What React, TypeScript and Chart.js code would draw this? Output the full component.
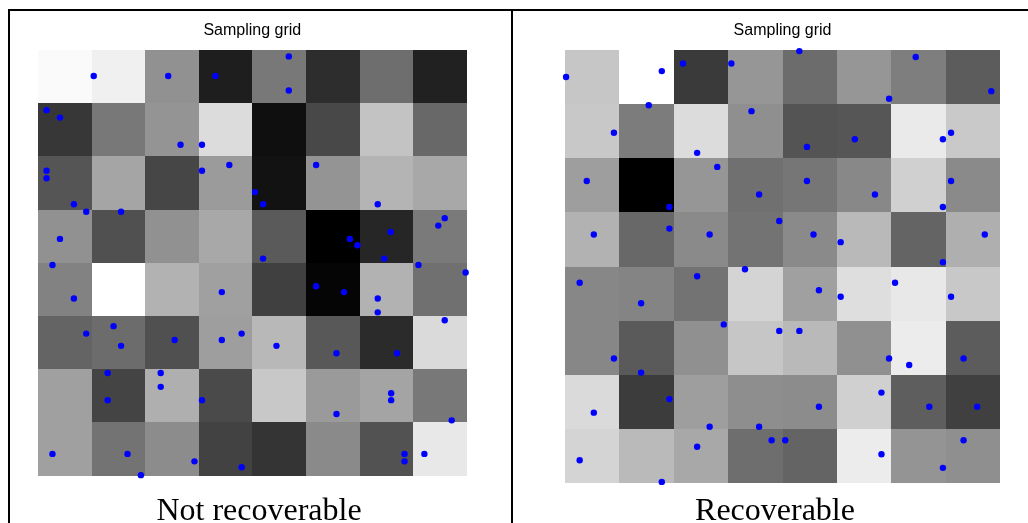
import React, { useEffect, useRef } from "react";
import { Chart, registerables } from "chart.js";
Chart.register(...registerables);

const TITLE = "Sampling grid";
const LEFT_LABEL = "Not recoverable";
const RIGHT_LABEL = "Recoverable";

// gray levels (0-255), row-major from top
const leftGray: number[][] = [
  [250, 240, 145, 30, 120, 45, 110, 33],
  [55, 120, 148, 220, 15, 72, 195, 104],
  [85, 165, 70, 155, 18, 148, 180, 168],
  [145, 80, 145, 168, 90, 0, 38, 122],
  [130, 255, 178, 160, 64, 5, 178, 112],
  [100, 108, 80, 158, 184, 88, 43, 218],
  [160, 68, 175, 74, 200, 154, 164, 120],
  [160, 115, 140, 66, 52, 138, 82, 232],
];

const rightGray: number[][] = [
  [198, 255, 58, 150, 108, 150, 126, 92],
  [200, 124, 220, 143, 84, 86, 234, 201],
  [158, 0, 150, 112, 118, 136, 208, 138],
  [178, 104, 138, 115, 138, 185, 100, 175],
  [135, 132, 115, 212, 160, 222, 232, 200],
  [135, 90, 144, 198, 185, 144, 236, 92],
  [218, 60, 158, 142, 140, 208, 94, 64],
  [212, 186, 168, 110, 100, 236, 148, 143],
];

// sample positions in grid units (x from left, y from top)
const leftX = [
  1.04, 2.43, 3.31, 4.68, 4.68, 0.16, 0.41, 2.66, 3.06, 0.16, 0.16, 3.06, 3.57, 4.05, 4.2, 5.19,
  0.67, 0.9, 1.55, 6.34, 7.59, 7.47, 6.58, 0.41, 5.82, 5.96, 4.2, 6.46, 0.27, 7.1, 7.98, 0.67,
  3.43, 5.19, 5.71, 6.34, 6.34, 7.59, 0.9, 1.41, 1.55, 2.55, 3.43, 3.8, 4.45, 5.57, 6.7, 1.3,
  2.29, 2.29, 1.3, 3.06, 5.57, 6.59, 6.59, 7.72, 0.27, 1.67, 1.92, 2.92, 3.8, 6.84, 6.84, 7.21,
];
const leftY = [
  0.49, 0.49, 0.49, 0.12, 0.76, 1.13, 1.27, 1.78, 1.78, 2.27, 2.41, 2.27, 2.16, 2.67, 2.9, 2.16,
  2.9, 3.04, 3.04, 2.9, 3.16, 3.3, 3.42, 3.55, 3.55, 3.67, 3.92, 3.92, 4.04, 4.04, 4.18, 4.67,
  4.55, 4.44, 4.55, 4.67, 4.93, 5.08, 5.33, 5.19, 5.56, 5.45, 5.45, 5.33, 5.56, 5.7, 5.7, 6.07,
  6.07, 6.33, 6.58, 6.58, 6.84, 6.45, 6.58, 6.96, 7.59, 7.59, 7.99, 7.73, 7.84, 7.59, 7.73, 7.59,
];
const rightX = [
  0.02, 1.78, 2.17, 3.06, 4.31, 6.45, 7.84, 5.96, 1.54, 0.9, 3.43, 2.43, 4.45, 5.33, 7.1, 6.95,
  0.4, 2.8, 3.57, 4.45, 5.7, 7.1, 6.95, 1.92, 1.92, 0.53, 2.66, 3.94, 4.57, 5.07, 7.72, 6.95,
  0.27, 1.4, 2.43, 3.31, 4.67, 5.07, 6.07, 7.1, 0.9, 1.4, 2.92, 3.94, 4.31, 5.96, 6.33, 7.33,
  0.53, 1.92, 2.66, 3.57, 4.67, 5.82, 6.7, 7.58, 0.27, 1.78, 2.43, 3.8, 4.05, 5.82, 6.95, 7.33,
];
const rightY = [
  0.5, 0.39, 0.25, 0.25, 0.02, 0.13, 0.76, 0.9, 1.02, 1.53, 1.13, 1.9, 1.79, 1.65, 1.53, 1.65,
  2.42, 2.16, 2.67, 2.42, 2.67, 2.42, 2.9, 2.9, 3.3, 3.41, 3.41, 3.16, 3.41, 3.55, 3.41, 3.92,
  4.3, 4.68, 4.18, 4.05, 4.44, 4.56, 4.3, 4.56, 5.7, 5.96, 5.07, 5.19, 5.19, 5.7, 5.82, 5.7,
  6.7, 6.45, 6.96, 6.96, 6.59, 6.33, 6.59, 6.59, 7.58, 7.98, 7.33, 7.21, 7.21, 7.47, 7.72, 7.21,
];

const GRID_N = 8;

function makeCellPlugin(grays: number[][]) {
  return {
    id: "grayCells",
    beforeDatasetsDraw(chart: any) {
      const { ctx } = chart;
      const xs = chart.scales.x;
      const ys = chart.scales.y;
      ctx.save();
      for (let r = 0; r < grays.length; r++) {
        for (let c = 0; c < grays[r].length; c++) {
          const x0 = Math.round(xs.getPixelForValue(c));
          const x1 = Math.round(xs.getPixelForValue(c + 1));
          const y0 = Math.round(ys.getPixelForValue(r));
          const y1 = Math.round(ys.getPixelForValue(r + 1));
          const g = grays[r][c];
          ctx.fillStyle = `rgb(${g},${g},${g})`;
          ctx.fillRect(Math.min(x0, x1), Math.min(y0, y1), Math.abs(x1 - x0), Math.abs(y1 - y0));
        }
      }
      ctx.restore();
    },
  };
}

type PanelProps = {
  grays: number[][];
  xs: number[];
  ys: number[];
  left: number;
  width: number;
  padding: { left: number; right: number; bottom: number };
};

function GridPanel({ grays, xs, ys, left, width, padding }: PanelProps) {
  const ref = useRef<HTMLCanvasElement | null>(null);
  useEffect(() => {
    if (!ref.current) return;
    const points = xs.map((x, i) => ({ x, y: ys[i] }));
    const chart = new Chart(ref.current, {
      type: "scatter",
      data: {
        datasets: [
          {
            data: points,
            backgroundColor: "#0000ff",
            borderWidth: 0,
            pointRadius: 3.2,
            clip: false as any,
          },
        ],
      },
      options: {
        animation: false,
        responsive: true,
        maintainAspectRatio: false,
        layout: { padding: { top: 0, left: padding.left, right: padding.right, bottom: padding.bottom } },
        scales: {
          x: { type: "linear", min: 0, max: GRID_N, display: false },
          y: { type: "linear", min: 0, max: GRID_N, reverse: true, display: false },
        },
        plugins: {
          legend: { display: false },
          tooltip: { enabled: false },
          title: {
            display: true,
            text: TITLE,
            color: "#000",
            font: { family: "'Liberation Sans', Arial, sans-serif", size: 16, weight: "normal" as any, lineHeight: 1.2 },
            padding: { top: 10.4, bottom: 9.4 },
          },
        },
      },
      plugins: [makeCellPlugin(grays)],
    });
    return () => chart.destroy();
  }, [grays, xs, ys, padding]);
  return (
    <div style={{ position: "absolute", left, top: 11, width, height: 512 }}>
      <canvas ref={ref} />
    </div>
  );
}

const leftPad = { left: 28, right: 44.3, bottom: 47.3 };
const rightPad = { left: 52, right: 28, bottom: 40 };

export default function App() {
  const labelStyle: React.CSSProperties = {
    position: "absolute",
    top: 493,
    width: 400,
    height: 32,
    lineHeight: "32px",
    fontFamily: "'Liberation Serif', 'Times New Roman', serif",
    fontSize: 32,
    textAlign: "center",
    color: "#000",
    whiteSpace: "nowrap",
  };
  return (
    <div style={{ position: "absolute", left: 0, top: 0, width: 1028, height: 523, overflow: "hidden", background: "#fff" }}>
      <div style={{ position: "absolute", left: 8, top: 9, width: 1020, height: 2, background: "#000" }} />
      <div style={{ position: "absolute", left: 8, top: 9, width: 2, height: 514, background: "#000" }} />
      <div style={{ position: "absolute", left: 511, top: 9, width: 2, height: 514, background: "#000" }} />
      <GridPanel grays={leftGray} xs={leftX} ys={leftY} left={10} width={501} padding={leftPad} />
      <GridPanel grays={rightGray} xs={rightX} ys={rightY} left={513} width={515} padding={rightPad} />
      <div style={{ ...labelStyle, left: 259 - 200 }}>{LEFT_LABEL}</div>
      <div style={{ ...labelStyle, left: 775 - 200 }}>{RIGHT_LABEL}</div>
    </div>
  );
}
